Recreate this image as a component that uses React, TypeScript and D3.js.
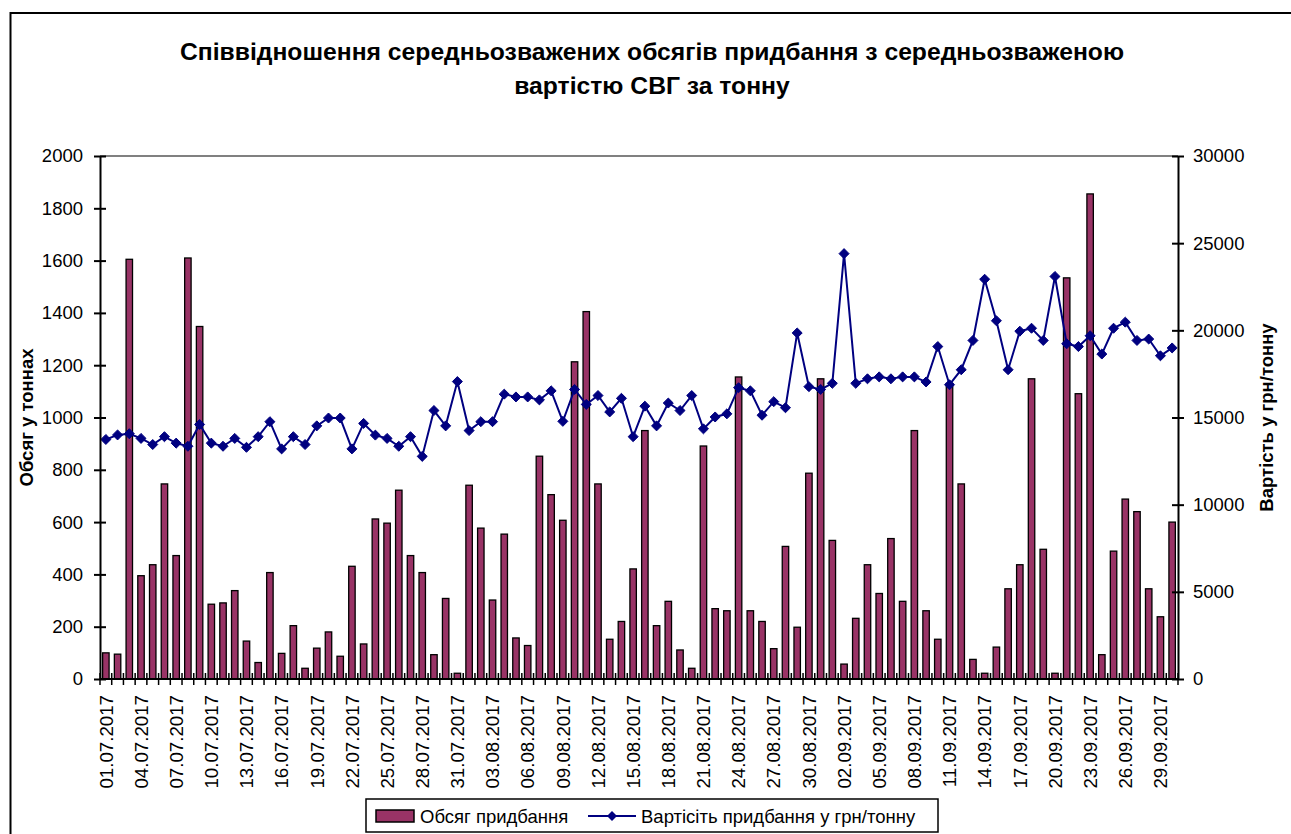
import React, { useEffect, useRef } from "react";
import * as d3 from "d3";

// Categories: every day from 01.07.2017 to 30.09.2017
const startDate = new Date(2017, 6, 1);
const endDate = new Date(2017, 9, 1);
const fmt = d3.timeFormat("%d.%m.%Y");
const dates: string[] = d3.timeDay.range(startDate, endDate).map((d) => fmt(d));

// Обсяг придбання, тонн (left axis)
const volumes = [
  100, 95, 1605, 395, 437, 746, 472, 1610, 1348, 286,
  291, 338, 145, 63, 407, 98, 204, 41, 118, 180,
  87, 431, 134, 612, 596, 722, 472, 407, 93, 308,
  22, 741, 577, 302, 554, 157, 128, 852, 705, 607,
  1213, 1405, 746, 152, 220, 421, 950, 204, 297, 111,
  41, 891, 269, 261, 1155, 261, 220, 116, 507, 198,
  787, 1148, 530, 57, 232, 437, 327, 537, 297, 950,
  261, 152, 1130, 746, 75, 22, 122, 345, 437, 1148,
  496, 22, 1534, 1091, 1855, 93, 489, 688, 640, 345,
  238, 600,
];

// Вартість придбання, грн/тонну (right axis)
const prices = [
  13740, 14000, 14070, 13800, 13450, 13900, 13530, 13350, 14600, 13530,
  13350, 13800, 13290, 13900, 14760, 13200, 13900, 13450, 14520, 14970,
  14970, 13200, 14660, 13990, 13800, 13350, 13900, 12770, 15400, 14520,
  17060, 14250, 14760, 14760, 16340, 16180, 16180, 16010, 16530, 14780,
  16610, 15750, 16260, 15320, 16100, 13900, 15650, 14520, 15830, 15400,
  16260, 14350, 15030, 15210, 16710, 16530, 15130, 15910, 15560, 19850,
  16770, 16610, 16960, 24400, 16960, 17220, 17330, 17220, 17330, 17330,
  17040, 19070, 16880, 17740, 19420, 22930, 20550, 17740, 19950, 20120,
  19420, 23090, 19230, 19070, 19690, 18640, 20120, 20470, 19420, 19500,
  18540, 18990,
];

const leftTicks = [0, 200, 400, 600, 800, 1000, 1200, 1400, 1600, 1800, 2000];
const rightTicks = [0, 5000, 10000, 15000, 20000, 25000, 30000];

const titleLines = [
  "Співвідношення середньозважених обсягів придбання з середньозваженою",
  "вартістю СВГ за тонну",
];
const leftTitle = "Обсяг у тоннах";
const rightTitle = "Вартість у грн/тонну";
const barName = "Обсяг придбання";
const lineName = "Вартісіть придбання у грн/тонну";

const W = 1291;
const H = 834;
const FONT = "'Liberation Sans', Arial, sans-serif";
const BAR_COLOR = "#993366";
const LINE_COLOR = "#000080";

const App = () => {
  const svgRef = useRef<SVGSVGElement | null>(null);

  useEffect(() => {
    const margin = { top: 156, right: W - 1178, bottom: H - 679, left: 100 };
    const width = W - margin.left - margin.right;
    const height = H - margin.top - margin.bottom;

    const svgContainer = d3.select(svgRef.current);
    svgContainer.selectAll("*").remove();

    const root = svgContainer.attr("width", W).attr("height", H);

    // Background + outer frame
    root.append("rect").attr("width", W).attr("height", H).attr("fill", "#fff");
    root
      .append("rect")
      .attr("x", 10.5)
      .attr("y", 13)
      .attr("width", 1400)
      .attr("height", 1000)
      .attr("fill", "none")
      .attr("stroke", "#000")
      .attr("stroke-width", 2);

    // Title
    root
      .append("g")
      .selectAll("text")
      .data(titleLines)
      .enter()
      .append("text")
      .attr("x", 652)
      .attr("y", (_, i) => 60 + i * 34)
      .attr("text-anchor", "middle")
      .style("font-family", FONT)
      .style("font-weight", "bold")
      .style("font-size", "24.7px")
      .text((d) => d);

    const svg = root.append("g").attr("transform", `translate(${margin.left},${margin.top})`);

    // Scales
    const xScale = d3.scaleBand().domain(dates).range([0, width]).padding(0);
    const yLeft = d3.scaleLinear().domain([0, 2000]).range([height, 0]);
    const yRight = d3.scaleLinear().domain([0, 30000]).range([height, 0]);
    const barW = xScale.bandwidth() * 0.55;

    // Top border of plot area
    svg
      .append("line")
      .attr("x1", 0)
      .attr("x2", width)
      .attr("y1", 0)
      .attr("y2", 0)
      .attr("stroke", "#808080")
      .attr("stroke-width", 2);

    // Bars
    svg
      .selectAll(".bar")
      .data(volumes)
      .enter()
      .append("rect")
      .attr("class", "bar")
      .attr("x", (_, i) => (xScale(dates[i]) as number) + (xScale.bandwidth() - barW) / 2)
      .attr("y", (d) => yLeft(d))
      .attr("width", barW)
      .attr("height", (d) => height - yLeft(d))
      .attr("fill", BAR_COLOR)
      .attr("stroke", "#000")
      .attr("stroke-width", 1.3);

    // Line series
    const cx = (i: number) => (xScale(dates[i]) as number) + xScale.bandwidth() / 2;
    const line = d3
      .line<number>()
      .x((_, i) => cx(i))
      .y((d) => yRight(d));
    svg
      .append("path")
      .datum(prices)
      .attr("d", line)
      .attr("fill", "none")
      .attr("stroke", LINE_COLOR)
      .attr("stroke-width", 2);

    const diamond = d3.symbol().type(d3.symbolDiamond2).size(64);
    svg
      .selectAll(".pt")
      .data(prices)
      .enter()
      .append("path")
      .attr("class", "pt")
      .attr("d", diamond)
      .attr("transform", (d, i) => `translate(${cx(i)},${yRight(d)})`)
      .attr("fill", LINE_COLOR)
      .attr("stroke", LINE_COLOR)
      .attr("stroke-width", 1);

    const numFmt = d3.format("d");

    // Left axis
    const gl = svg
      .append("g")
      .call(
        d3.axisLeft(yLeft).tickValues(leftTicks).tickFormat(numFmt).tickSizeInner(6).tickSizeOuter(0).tickPadding(11)
      );
    gl.select(".domain").attr("stroke", "#000").attr("stroke-width", 2);
    gl.selectAll(".tick line").attr("x1", 6).attr("x2", -6).attr("stroke-width", 2);
    gl.selectAll("text")
      .style("font-family", FONT)
      .style("font-size", "18.5px")
      .style("fill", "#000");

    // Right axis
    const gr = svg
      .append("g")
      .attr("transform", `translate(${width},0)`)
      .call(
        d3.axisRight(yRight).tickValues(rightTicks).tickFormat(numFmt).tickSizeInner(6).tickSizeOuter(0).tickPadding(9)
      );
    gr.select(".domain").attr("stroke", "#000").attr("stroke-width", 2);
    gr.selectAll(".tick line").attr("x1", -6).attr("x2", 6).attr("stroke-width", 2);
    gr.selectAll("text")
      .style("font-family", FONT)
      .style("font-size", "18.5px")
      .style("fill", "#000");

    // X axis: baseline, category boundary ticks, labels every 3rd day
    const gx = svg.append("g").attr("transform", `translate(0,${height})`);
    gx.append("line")
      .attr("x1", 0)
      .attr("x2", width)
      .attr("stroke", "#000")
      .attr("stroke-width", 2);
    gx.selectAll(".xt")
      .data(d3.range(dates.length + 1))
      .enter()
      .append("line")
      .attr("class", "xt")
      .attr("x1", (i) => i * xScale.step())
      .attr("x2", (i) => i * xScale.step())
      .attr("y1", -6)
      .attr("y2", 6)
      .attr("stroke", "#000")
      .attr("stroke-width", 1.5);
    gx.selectAll(".xl")
      .data(dates.filter((_, i) => i % 3 === 0))
      .enter()
      .append("text")
      .attr("class", "xl")
      .attr("transform", (d) => `translate(${(xScale(d) as number) + xScale.bandwidth() / 2},16) rotate(-90)`)
      .attr("dy", "0.36em")
      .attr("text-anchor", "end")
      .style("font-family", FONT)
      .style("font-size", "18.7px")
      .text((d) => d);

    // Axis titles
    root
      .append("text")
      .attr("transform", `translate(26,${margin.top + height / 2}) rotate(-90)`)
      .attr("dy", "0.36em")
      .attr("text-anchor", "middle")
      .style("font-family", FONT)
      .style("font-weight", "bold")
      .style("font-size", "18.5px")
      .text(leftTitle);
    root
      .append("text")
      .attr("transform", `translate(1266,${margin.top + height / 2}) rotate(-90)`)
      .attr("dy", "0.36em")
      .attr("text-anchor", "middle")
      .style("font-family", FONT)
      .style("font-weight", "bold")
      .style("font-size", "18.5px")
      .text(rightTitle);

    // Legend
    const lg = root.append("g").attr("transform", "translate(366,799)");
    lg.append("rect")
      .attr("width", 572)
      .attr("height", 33)
      .attr("fill", "#fff")
      .attr("stroke", "#000")
      .attr("stroke-width", 1.5);
    lg.append("rect")
      .attr("x", 10)
      .attr("y", 11)
      .attr("width", 38)
      .attr("height", 12)
      .attr("fill", BAR_COLOR)
      .attr("stroke", "#000")
      .attr("stroke-width", 1.5);
    lg.append("text")
      .attr("x", 54)
      .attr("y", 17)
      .attr("dy", "0.36em")
      .style("font-family", FONT)
      .style("font-size", "18.5px")
      .text(barName);
    lg.append("line")
      .attr("x1", 222)
      .attr("x2", 270)
      .attr("y1", 17)
      .attr("y2", 17)
      .attr("stroke", LINE_COLOR)
      .attr("stroke-width", 2);
    lg.append("path")
      .attr("d", diamond)
      .attr("transform", "translate(246,17)")
      .attr("fill", LINE_COLOR);
    lg.append("text")
      .attr("x", 275)
      .attr("y", 17)
      .attr("dy", "0.36em")
      .style("font-family", FONT)
      .style("font-size", "18.5px")
      .text(lineName);
  }, []);

  return (
    <div style={{ position: "absolute", left: 0, top: 0 }}>
      <svg ref={svgRef} style={{ display: "block" }}></svg>
    </div>
  );
};

export default App;
